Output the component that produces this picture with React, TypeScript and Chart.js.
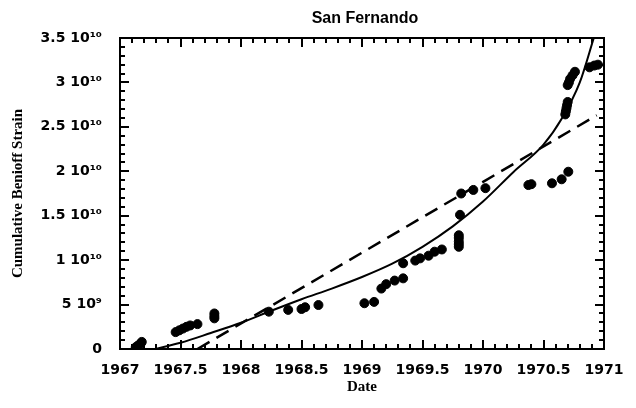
import React, { useEffect, useRef } from "react";
import { Chart, registerables } from "chart.js";

Chart.register(...registerables);

const TITLE = "San Fernando";
const X_TITLE = "Date";
const Y_TITLE = "Cumulative Benioff Strain";

const X_MIN = 1967;
const X_MAX = 1971;
const Y_MIN = 0;
const Y_MAX = 3.5e10;
const X_MINOR_STEP = 0.1;
const Y_MINOR_STEP = 1e9;

const X_TICKS = [1967, 1967.5, 1968, 1968.5, 1969, 1969.5, 1970, 1970.5, 1971];
const X_TICK_LABELS = ["1967", "1967.5", "1968", "1968.5", "1969", "1969.5", "1970", "1970.5", "1971"];
const Y_TICKS = [0, 5e9, 1e10, 1.5e10, 2e10, 2.5e10, 3e10, 3.5e10];
const Y_TICK_LABELS = ["0", "5 10\u2079", "1 10\u00B9\u2070", "1.5 10\u00B9\u2070", "2 10\u00B9\u2070", "2.5 10\u00B9\u2070", "3 10\u00B9\u2070", "3.5 10\u00B9\u2070"];

// observed cumulative Benioff strain
const OBS_DATES = [
  1967.13, 1967.15, 1967.17, 1967.18,
  1967.46, 1967.49, 1967.52, 1967.55, 1967.58, 1967.64,
  1967.78, 1967.78, 1967.78,
  1968.23, 1968.39, 1968.5, 1968.53, 1968.64,
  1969.02, 1969.1, 1969.16, 1969.2, 1969.27, 1969.34, 1969.34,
  1969.44, 1969.48, 1969.55, 1969.6, 1969.66,
  1969.8, 1969.8, 1969.8, 1969.8, 1969.8, 1969.81, 1969.82, 1969.92, 1970.02,
  1970.375, 1970.4, 1970.57, 1970.65, 1970.705,
  1970.68, 1970.685, 1970.69, 1970.695, 1970.7,
  1970.7, 1970.71, 1970.72, 1970.74, 1970.76,
  1970.88, 1970.92, 1970.95,
];
const OBS_STRAIN = [
  0.2e9, 0.4e9, 0.6e9, 0.8e9,
  1.9e9, 2.1e9, 2.3e9, 2.5e9, 2.65e9, 2.8e9,
  3.45e9, 3.7e9, 4.0e9,
  4.2e9, 4.4e9, 4.5e9, 4.7e9, 4.95e9,
  5.15e9, 5.3e9, 6.8e9, 7.3e9, 7.7e9, 7.95e9, 9.65e9,
  9.95e9, 10.2e9, 10.5e9, 10.95e9, 11.2e9,
  11.5e9, 11.8e9, 12.1e9, 12.5e9, 12.8e9, 15.1e9, 17.5e9, 17.9e9, 18.1e9,
  18.45e9, 18.55e9, 18.65e9, 19.1e9, 19.95e9,
  26.4e9, 26.75e9, 27.1e9, 27.45e9, 27.8e9,
  29.7e9, 30.0e9, 30.4e9, 30.8e9, 31.2e9,
  31.7e9, 31.9e9, 32.0e9,
];

// time-to-failure fit (solid)
const FIT_DATES = [1967.29, 1967.5, 1967.75, 1968.0, 1968.25, 1968.5, 1968.75, 1969.0, 1969.25, 1969.5, 1969.75, 1970.0, 1970.25, 1970.5, 1970.65, 1970.8, 1970.92];
const FIT_STRAIN = [0, 0.7e9, 1.8e9, 2.95e9, 4.3e9, 5.6e9, 6.8e9, 8.1e9, 9.6e9, 11.5e9, 13.8e9, 16.6e9, 19.9e9, 23.0e9, 25.9e9, 30.0e9, 35.2e9];

// linear fit (dashed)
const LIN_DATES = [1967.64, 1970.94];
const LIN_STRAIN = [0, 26.3e9];

const pts = (xs: number[], ys: number[]) => xs.map((x, i) => ({ x, y: ys[i] }));

const framePlugin = {
  id: "frameTicks",
  afterDraw(chart: any) {
    const ctx = chart.ctx as CanvasRenderingContext2D;
    const area = chart.chartArea;
    const left = area.left, right = area.right, top = area.top, bottom = area.bottom;
    const xs = chart.scales.x;
    const ys = chart.scales.y;
    ctx.save();
    ctx.fillStyle = "#000";
    const nx = Math.round((X_MAX - X_MIN) / X_MINOR_STEP);
    for (let i = 0; i <= nx; i++) {
      const v = X_MIN + i * X_MINOR_STEP;
      const major = X_TICKS.some((t) => Math.abs(t - v) < 1e-6);
      const len = major ? 9 : 5;
      const px = Math.round(xs.getPixelForValue(v));
      ctx.fillRect(px - 1, bottom - len, 2, len);
      ctx.fillRect(px - 1, top, 2, len);
    }
    const ny = Math.round((Y_MAX - Y_MIN) / Y_MINOR_STEP);
    for (let i = 0; i <= ny; i++) {
      const v = Y_MIN + i * Y_MINOR_STEP;
      const major = Y_TICKS.some((t) => Math.abs(t - v) < 1);
      const len = major ? 9 : 5;
      const py = Math.round(ys.getPixelForValue(v));
      ctx.fillRect(left, py - 1, len, 2);
      ctx.fillRect(right - len, py - 1, len, 2);
    }
    ctx.setLineDash([]);
    ctx.strokeStyle = "#000";
    ctx.lineWidth = 2;
    ctx.strokeRect(left, top, right - left, bottom - top);

    ctx.font = "bold 16px 'Liberation Sans', Arial, sans-serif";
    ctx.textAlign = "center";
    ctx.textBaseline = "middle";
    ctx.fillText(TITLE, (left + right) / 2 + 3, 19);
    ctx.restore();
  },
};

export default function App() {
  const ref = useRef<HTMLCanvasElement | null>(null);
  useEffect(() => {
    if (!ref.current) return;
    const tickFont = { family: "'DejaVu Sans', sans-serif", weight: "bold" as const, size: 14 };
    const titleFont = { family: "'Liberation Serif', 'Times New Roman', serif", weight: "bold" as const, size: 15 };
    const chart = new Chart(ref.current, {
      type: "scatter",
      data: {
        datasets: [
          {
            label: "observed",
            data: pts(OBS_DATES, OBS_STRAIN),
            backgroundColor: "#000",
            borderColor: "#000",
            borderWidth: 1,
            pointRadius: 4.5,
            showLine: false,
          },
          {
            label: "fit",
            data: pts(FIT_DATES, FIT_STRAIN),
            showLine: true,
            borderColor: "#000",
            borderWidth: 2,
            pointRadius: 0,
            cubicInterpolationMode: "monotone",
          } as any,
          {
            label: "linear",
            data: pts(LIN_DATES, LIN_STRAIN),
            showLine: true,
            borderColor: "#000",
            borderWidth: 2.5,
            borderDash: [14, 8],
            pointRadius: 0,
          },
        ],
      },
      options: {
        animation: false,
        responsive: false,
        layout: { padding: { top: 38, right: 32, left: 0, bottom: 0 } },
        plugins: { legend: { display: false }, tooltip: { enabled: false }, title: { display: false } },
        scales: {
          x: {
            type: "linear",
            min: X_MIN,
            max: X_MAX,
            grid: { display: false },
            border: { display: false },
            afterBuildTicks: (s: any) => {
              s.ticks = X_TICKS.map((v) => ({ value: v }));
            },
            afterFit: (s: any) => {
              s.height = 59;
            },
            ticks: {
              autoSkip: false,
              maxRotation: 0,
              color: "#000",
              font: tickFont,
              padding: 5,
              callback: (v: any) => {
                const i = X_TICKS.findIndex((t) => Math.abs(t - Number(v)) < 1e-6);
                return i >= 0 ? X_TICK_LABELS[i] : "";
              },
            },
            title: { display: true, text: X_TITLE, color: "#000", font: titleFont, padding: { top: 0, bottom: 12 } },
          },
          y: {
            type: "linear",
            min: Y_MIN,
            max: Y_MAX,
            grid: { display: false },
            border: { display: false },
            afterBuildTicks: (s: any) => {
              s.ticks = Y_TICKS.map((v) => ({ value: v }));
            },
            afterFit: (s: any) => {
              s.width = 120;
            },
            ticks: {
              autoSkip: false,
              color: "#000",
              font: tickFont,
              padding: 10,
              callback: (v: any) => {
                const i = Y_TICKS.findIndex((t) => Math.abs(t - Number(v)) < 1);
                return i >= 0 ? Y_TICK_LABELS[i] : "";
              },
            },
            title: { display: true, text: Y_TITLE, color: "#000", font: titleFont, padding: { top: 9, bottom: 0 } },
          },
        },
      },
      plugins: [framePlugin],
    });
    return () => chart.destroy();
  }, []);
  return (
    <div style={{ position: "absolute", left: 0, top: 0, width: 636, height: 408, background: "#fff" }}>
      <canvas ref={ref} width={636} height={408} />
    </div>
  );
}
